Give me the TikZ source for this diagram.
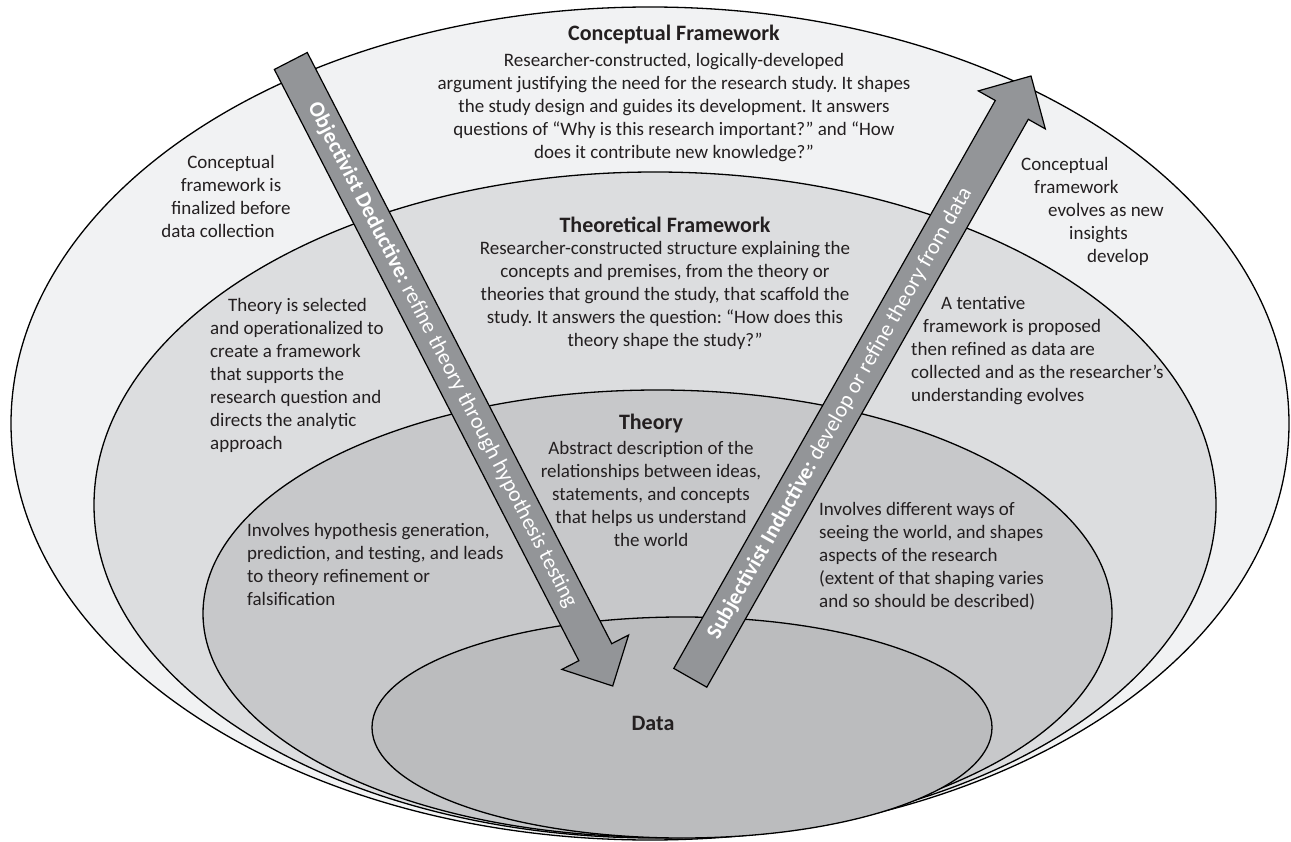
\documentclass[tikz,border=0pt]{standalone}
\usepackage{fontspec}
\setmainfont{Carlito}
\frenchspacing
\definecolor{ringA}{HTML}{F1F2F3}
\definecolor{ringB}{HTML}{DCDDDF}
\definecolor{ringC}{HTML}{C7C8CA}
\definecolor{ringD}{HTML}{BBBCBE}
\definecolor{arrowgray}{HTML}{939598}
\definecolor{ink}{HTML}{231F20}
\begin{document}
\begin{tikzpicture}[x=1pt,y=-1pt,
  ring/.style={draw=black,line width=1.3pt},
  arrowbody/.style={draw=black,line width=1.2pt,fill=arrowgray,line join=miter},
  heading/.style={inner sep=0pt,font=\fontsize{22}{26}\selectfont\bfseries,text=ink},
  body/.style={inner sep=0pt,font=\fontsize{19}{23}\selectfont,text=ink},
  arrowtext/.style={inner sep=0pt,font=\fontsize{22}{26}\selectfont,text=white}]
\fill[white] (0,0) rectangle (1291,842);
\useasboundingbox (0,0) rectangle (1291,842);
% nested ellipses
\draw[ring,fill=ringA] (650,423.5) ellipse [x radius=639,y radius=416.5];
\draw[ring,fill=ringB] (655,505) ellipse [x radius=561,y radius=333];
\draw[ring,fill=ringC] (657.5,613.5) ellipse [x radius=454.5,y radius=223.5];
\draw[ring,fill=ringD] (682,727.5) ellipse [x radius=310,y radius=110.5];
% arrows
\draw[arrowbody] (274.35,69.47) -- (307.25,52.53) -- (611.75,643.7) -- (628.6,635.0)
  -- (612.7,686) -- (561.9,669.4) -- (578.85,660.7) -- cycle;
\draw[arrowbody] (673.8,668.4) -- (995.3,100.5) -- (978.3,90.9) -- (1031,76)
  -- (1045.3,128.9) -- (1028.3,119.3) -- (706.8,687.2) -- cycle;
\node[arrowtext,anchor=west,rotate=-62.75] (deductive) at (312.8,103.7)
  {\bfseries Objectivist Deductive:\mdseries{} refine theory through hypothesis testing};
\node[arrowtext,anchor=west,rotate=60.48] (inductive) at (713,637.8)
  {\bfseries Subjectivist Inductive:\mdseries{} develop or refine theory from data};
% titles and descriptions
\node[heading] (cftitle) at (674,35) {Conceptual Framework};
\node[body,align=center] (cfbody) at (674,108) {Researcher-constructed, logically-developed\\
argument justifying the need for the research study. It shapes\\
the study design and guides its development. It answers\\
questions of “Why is this research important?” and “How\\
does it contribute new knowledge?”};
\node[heading] (tftitle) at (665,225) {Theoretical Framework};
\node[body,align=center] (tfbody) at (665,295) {Researcher-constructed structure explaining the\\
concepts and premises, from the theory or\\
theories that ground the study, that scaffold the\\
study. It answers the question: “How does this\\
theory shape the study?”};
\node[heading] (thtitle) at (651,424) {Theory};
\node[body,align=center] (thbody) at (651,494) {Abstract description of the\\
relationships between ideas,\\
statements, and concepts\\
that helps us understand\\
the world};
\node[heading] (data) at (653,723) {Data};
% side notes
\node[body,align=center] (cfleft) at (231,196.5) {Conceptual\\framework is\\finalized before\\data collection\hspace*{26pt}};
\node[body,align=left,anchor=west] (cfright) at (1021,211.6) {Conceptual\\
\hspace*{13pt}framework\\
\hspace*{27pt}evolves as new\\
\hspace*{48pt}insights\\
\hspace*{66pt}develop};
\node[body,align=left,anchor=west] (tfleft) at (210,375) {\hspace*{18pt}Theory is selected\\
and operationalized to\\
create a framework\\
that supports the\\
research question and\\
directs the analytic\\
approach};
\node[body,align=left,anchor=west] (tfright) at (911,350.4) {\hspace*{30pt}A tentative\\
\hspace*{12pt}framework is proposed\\
then refined as data are\\
collected and as the researcher’s\\
understanding evolves};
\node[body,align=left,anchor=west] (thleft) at (247,564.5) {Involves hypothesis generation,\\
prediction, and testing, and leads\\
to theory refinement or\\
falsification};
\node[body,align=left,anchor=west] (thright) at (819,556.6) {Involves different ways of\\
seeing the world, and shapes\\
aspects of the research\\
(extent of that shaping varies\\
and so should be described)};
\end{tikzpicture}
\end{document}
